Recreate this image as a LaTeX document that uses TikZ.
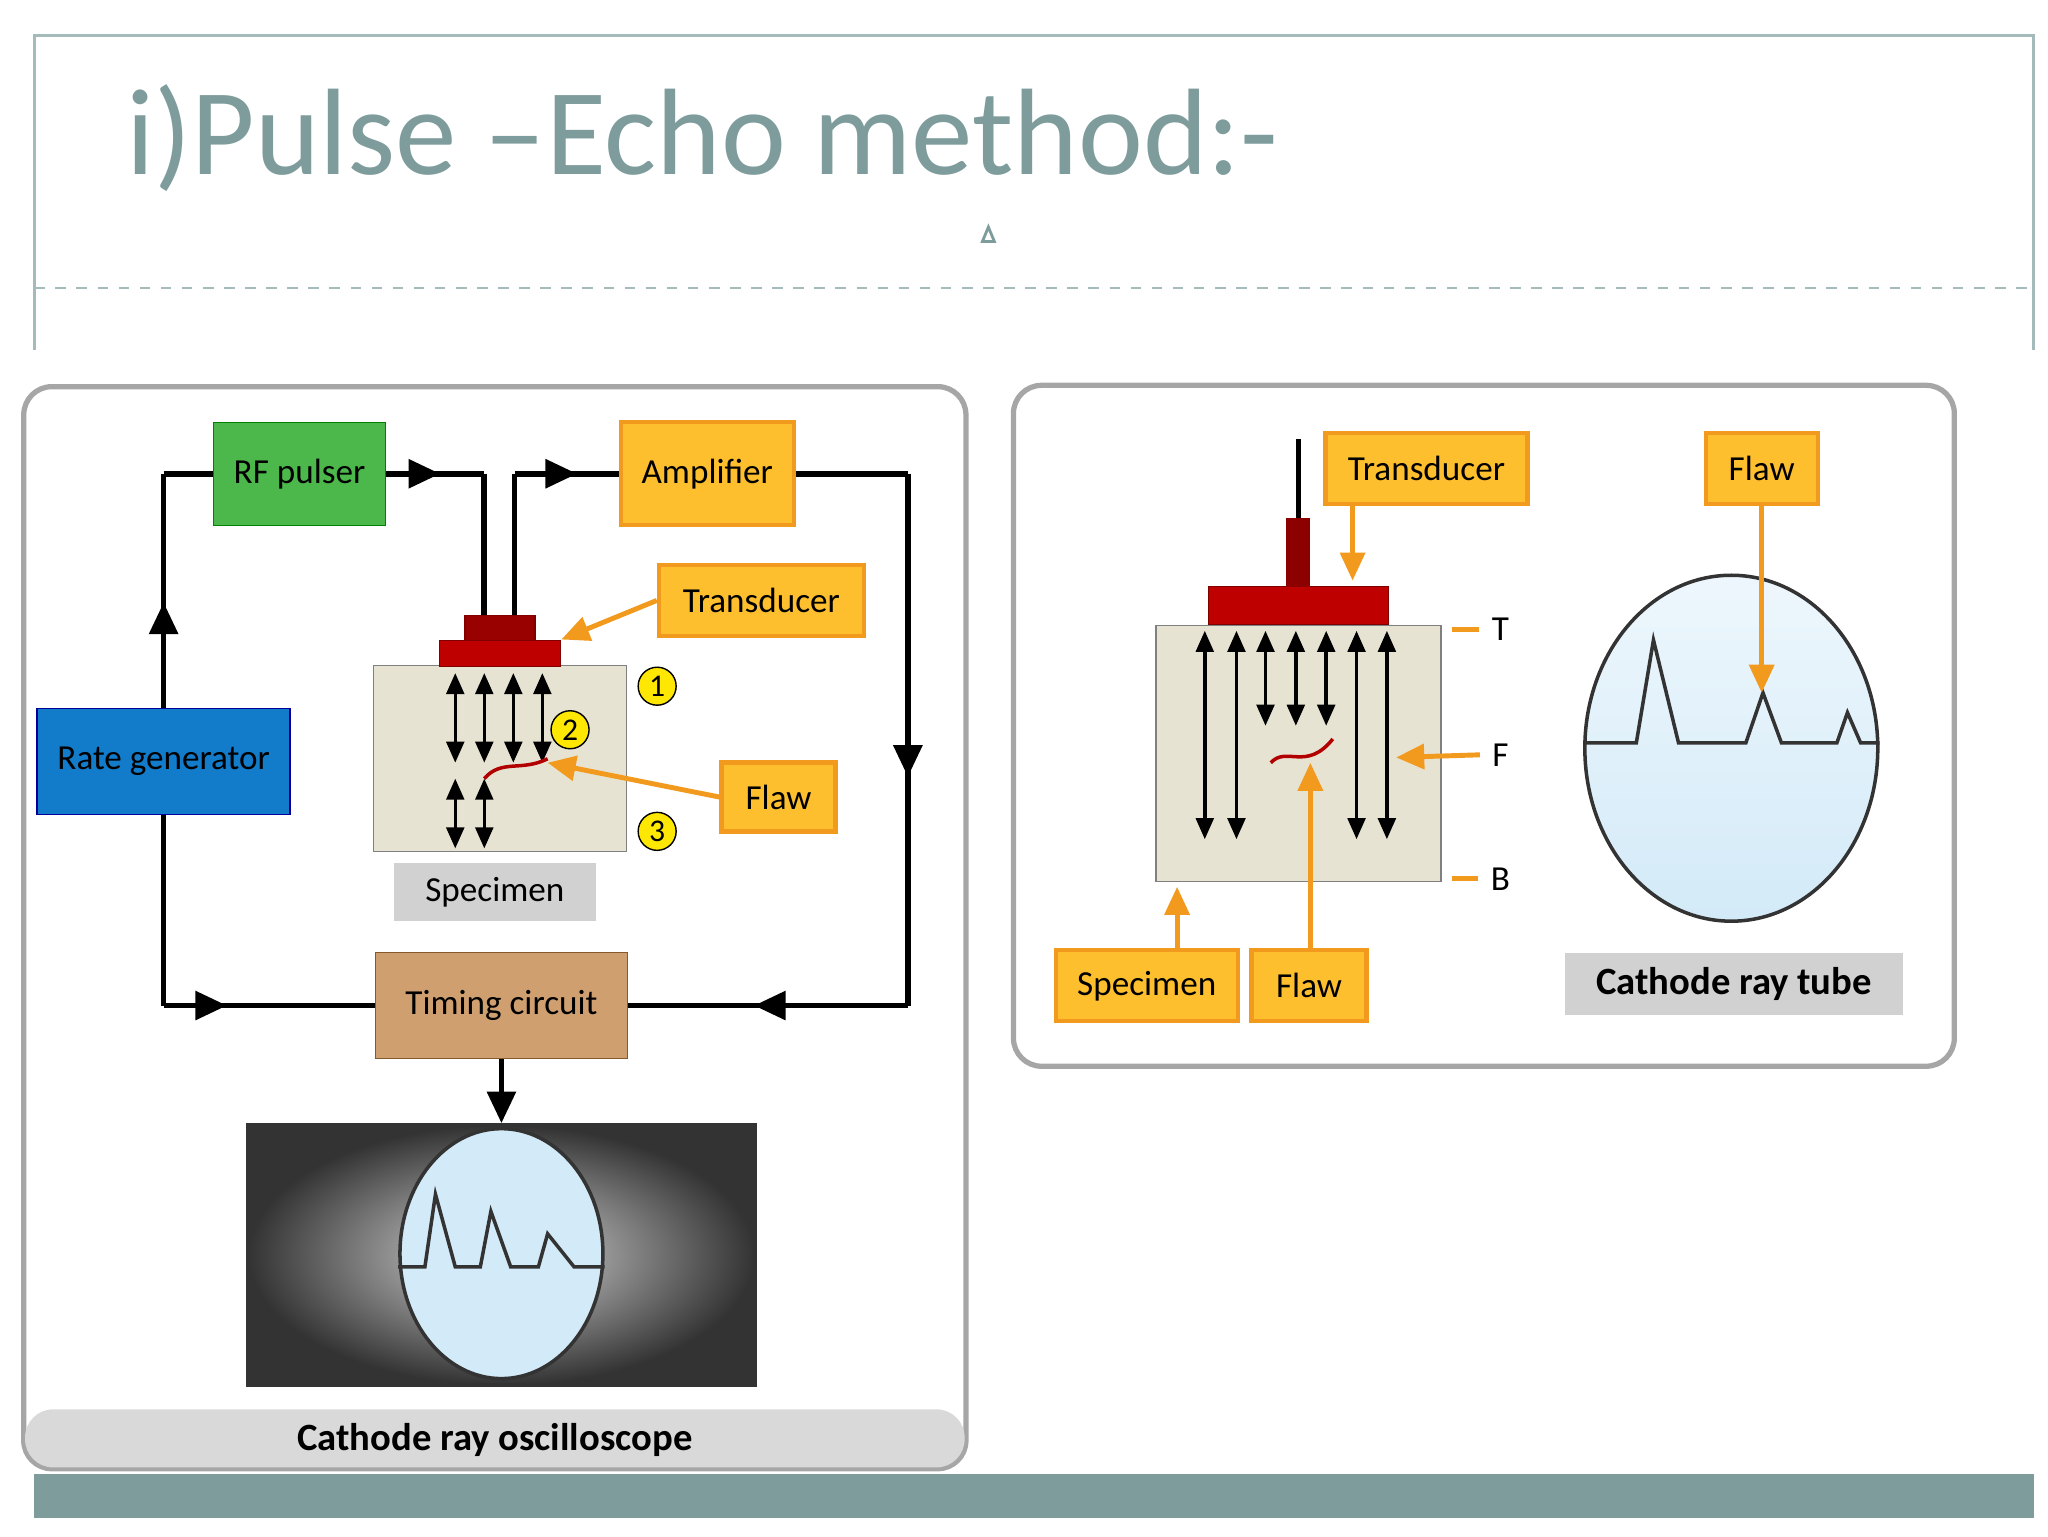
\documentclass[tikz,border=0pt]{standalone}
\usepackage{fontspec}
\setmainfont{Carlito}
\usetikzlibrary{arrows.meta,decorations.markings,shapes.geometric}
\definecolor{teal}{HTML}{7F9C9C}
\definecolor{ybox}{HTML}{FDBF2D}
\definecolor{yline}{HTML}{F29A1E}
\definecolor{beige}{HTML}{E7E3D3}
\definecolor{tube}{HTML}{D3EAF8}
\tikzset{
  lbl/.style={rectangle, draw=yline, fill=ybox, line width=1.2pt, inner sep=1pt, font=\fontsize{10}{11}\selectfont},
  glbl/.style={rectangle, fill=black!18, inner sep=1pt, font=\fontsize{10}{11}\selectfont},
  wire/.style={line width=1.6pt, black},
  midarrow/.style={postaction={decorate}, decoration={markings,
    mark=at position #1 with {\arrow{Triangle[length=9pt,width=8pt]}}}},
  wave/.style={{Triangle[length=6pt,width=5pt]}-{Triangle[length=6pt,width=5pt]}, line width=1pt},
  pointer/.style={draw=yline, line width=1.4pt, -{Triangle[length=8pt,width=7pt]}},
  numc/.style={circle, draw=black, fill=yellow!90!orange, inner sep=0pt, minimum size=0.38cm, font=\fontsize{9}{9}\selectfont},
  tlab/.style={font=\fontsize{10}{11}\selectfont}
}
\begin{document}
\begin{tikzpicture}[x=0.0132cm,y=-0.0132cm]
\useasboundingbox (0,0) rectangle (1552,1164);
% header
\draw[teal!70, line width=1pt] (26,265) -- (26,27) -- (1541,27) -- (1541,265);
\draw[teal!70, dashed, line width=0.6pt] (26,218) -- (1541,218);
\node[anchor=base west, text=teal, font=\fontsize{35}{40}\selectfont, inner sep=0pt] (title) at (95,132) {i)Pulse –Echo method:-};
\node[isosceles triangle, shape border rotate=90, draw=teal, line width=0.8pt, inner sep=0pt, minimum size=0.12cm] (tri) at (749,180) {};
\fill[teal] (26,1117) rectangle (1541,1150);

% left panel
\draw[black!35, line width=1.5pt, rounded corners=8pt, fill=white] (18,293) rectangle (732,1113);
\fill[black!15, rounded corners=8pt] (19,1068) rectangle (731,1112);
\node[font=\fontsize{11}{12}\selectfont\bfseries] (cro) at (375,1091) {Cathode ray oscilloscope};

\node[rectangle, draw=green!50!black, fill=green!60!black!70, inner sep=1pt, minimum width=1.72cm, minimum height=1.03cm, font=\fontsize{10}{11}\selectfont] (rf) at (227,359) {RF pulser};
\node[lbl, minimum width=1.73cm, minimum height=1.03cm] (amp) at (536,359) {Amplifier};
\node[lbl, minimum width=2.05cm, minimum height=0.71cm] (tdl) at (577,455) {Transducer};
\node[rectangle, draw=blue!60!black, fill=cyan!60!blue, inner sep=1pt, minimum width=2.53cm, minimum height=1.06cm, font=\fontsize{10}{11}\selectfont] (rg) at (124,577) {Rate generator};
\node[lbl, minimum width=1.14cm, minimum height=0.69cm] (flawl) at (590,604) {Flaw};
\node[glbl, minimum width=2.02cm, minimum height=0.58cm] (specl) at (375,676) {Specimen};
\node[rectangle, draw=brown!70!black, fill=brown!75!white, inner sep=1pt, minimum width=2.52cm, minimum height=1.06cm, font=\fontsize{10}{11}\selectfont] (tc) at (380,762) {Timing circuit};

% specimen and transducer
\node[rectangle, draw=black!50, fill=beige, minimum width=2.53cm, minimum height=1.86cm, inner sep=0pt] (blkl) at (379,575) {};
\node[rectangle, draw=red!50!black, fill=red!75!black, minimum width=1.21cm, minimum height=0.26cm, inner sep=0pt] (diskl) at (379,495) {};
\node[rectangle, draw=red!50!black, fill=red!60!black, minimum width=0.7cm, minimum height=0.25cm, inner sep=0pt] (capl) at (379,476) {};
\coordinate (wa) at (367,466);
\coordinate (wb) at (390,466);
\foreach \x in {345,367,389,411} \draw[wave] (\x,510) -- (\x,578);
\foreach \x in {345,367} \draw[wave] (\x,590) -- (\x,643);
\draw[red!70!black, line width=1pt] (367,590) .. controls (380,575) and (395,585) .. (415,575);
\node[numc] (n1) at (498,520) {1};
\node[numc] (n2) at (432,553) {2};
\node[numc] (n3) at (498,630) {3};
\draw[pointer] (tdl.west) -- (diskl.north east);
\draw[pointer] (flawl.west) -- (415,578);

% wiring
\draw[wire, midarrow=0.45] (rg.north) -- (rg.north |- rf.west);
\draw[wire] (rg.north |- rf.west) -- (rf.west);
\draw[wire, midarrow=0.55] (rf.east) -- (wa |- rf.east);
\draw[wire] (wa |- rf.east) -- (wa);
\draw[wire] (wb) -- (wb |- amp.west);
\draw[wire, midarrow=0.6] (wb |- amp.west) -- (amp.west);
\draw[wire] (amp.east) -- (688,359);
\draw[wire, midarrow=0.57] (688,359) -- (688,762);
\draw[wire, midarrow=0.55] (688,762) -- (tc.east);
\draw[wire] (rg.south) -- (rg.south |- tc.west);
\draw[wire, midarrow=0.3] (rg.south |- tc.west) -- (tc.west);

% oscilloscope
\node[rectangle, draw=black!80, line width=1pt, inner color=black!15, outer color=black!80, minimum width=5.07cm, minimum height=2.6cm] (scr) at (380,951) {};
\draw[wire, -{Triangle[length=9pt,width=8pt]}] (tc.south) -- (scr.north);
\node[ellipse, draw=black!80, line width=1pt, fill=tube, minimum width=2.03cm, minimum height=2.5cm] (scope) at (380,950) {};
\draw[black!80, line width=1pt] (scope.west |- 0,960) -- (322,960) -- (330,905) -- (345,960) -- (364,960) -- (372,918) -- (387,960) -- (408,960) -- (415,935) -- (435,960) -- (scope.east |- 0,960);

% right panel
\draw[black!35, line width=1.5pt, rounded corners=8pt] (768,292) rectangle (1481,808);
\node[rectangle, draw=black!50, fill=beige, minimum width=2.85cm, minimum height=2.56cm, inner sep=0pt] (blkr) at (984,571) {};
\node[rectangle, draw=red!50!black, fill=red!75!black, minimum width=1.8cm, minimum height=0.38cm, inner sep=0pt] (diskr) at (984,459) {};
\node[rectangle, fill=red!55!black, minimum width=0.24cm, minimum height=0.69cm, inner sep=0pt] (stem) at (984,419) {};
\coordinate (wtop) at (984,333);
\draw[line width=1.5pt] (wtop) -- (stem.north);
\foreach \x in {913,937,1028,1051} \draw[wave] (\x,478) -- (\x,636);
\foreach \x in {959,982,1005} \draw[wave] (\x,478) -- (\x,550);
\draw[red!70!black, line width=1pt] (963,578) .. controls (975,565) and (990,585) .. (1010,560);

\node[ellipse, draw=black!80, line width=1pt, top color=tube!40, bottom color=tube, minimum width=2.93cm, minimum height=3.46cm] (ray) at (1312,567) {};
\draw[black!80, line width=1pt] (ray.west |- 0,563) -- (1240,563) -- (1253,485) -- (1272,563) -- (1323,563) -- (1336,525) -- (1350,563) -- (1392,563) -- (1400,540) -- (1410,563) -- (ray.east |- 0,563);

\node[lbl, minimum width=2.02cm, minimum height=0.71cm] (tdr) at (1081,355) {Transducer};
\node[lbl, minimum width=1.12cm, minimum height=0.71cm] (flawt) at (1335,355) {Flaw};
\node[lbl, minimum width=1.82cm, minimum height=0.71cm] (specr) at (869,747) {Specimen};
\node[lbl, minimum width=1.15cm, minimum height=0.71cm] (flawb) at (992,747) {Flaw};
\node[glbl, minimum width=3.38cm, minimum height=0.62cm, font=\fontsize{11}{12}\selectfont\bfseries] (crt) at (1314,746) {Cathode ray tube};

\node[tlab] (tT) at (1137,477) {T};
\node[tlab] (tF) at (1137,572) {F};
\node[tlab] (tB) at (1137,666) {B};
\draw[yline, line width=1.4pt] (1100,477) -- (tT.west);
\draw[yline, line width=1.4pt] (1100,666) -- (tB.west);
\draw[pointer] (tF.west) -- (1058,574);
\draw[pointer] (tdr.south -| 1025,0) -- (1025,440);
\draw[pointer] (specr.north -| 892,0) -- (892,672);
\draw[pointer] (flawb.north -| 993,0) -- (993,578);
\draw[pointer] (flawt.south) -- (1335,525);
\end{tikzpicture}
\end{document}
